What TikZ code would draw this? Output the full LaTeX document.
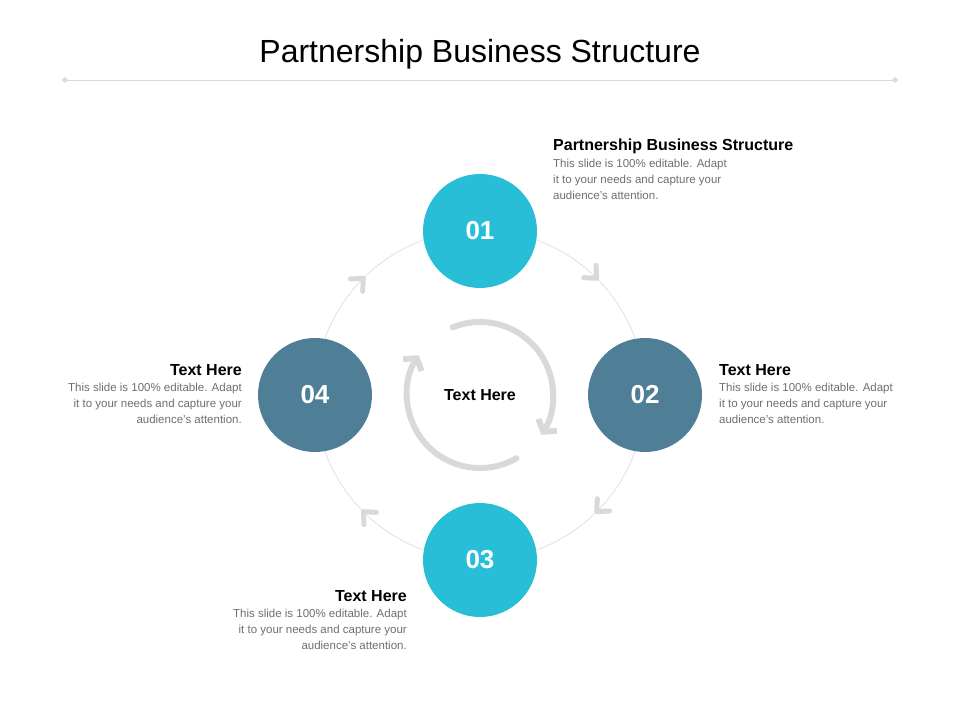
\documentclass[tikz,border=0pt]{standalone}
\usepackage{fontspec}
\setmainfont{Liberation Sans}
\usetikzlibrary{arrows.meta,calc}
\definecolor{cyanstep}{RGB}{41,190,216}
\definecolor{slatestep}{RGB}{79,127,150}
\definecolor{ringgray}{RGB}{217,217,217}
\definecolor{bodygray}{RGB}{110,110,110}

\begin{document}
\begin{tikzpicture}[x=1pt,y=1pt,line cap=round,line join=round,
  stepdot/.style={circle,minimum size=114pt,inner sep=0pt,text=white,font=\fontsize{26}{28}\selectfont\bfseries},
  headtxt/.style={font=\fontsize{16}{18}\selectfont\bfseries,inner sep=0pt},
  bodytxt/.style={font=\fontsize{11.5}{16}\selectfont,text=bodygray,inner sep=0pt},
  chev/.style={ringgray,line width=5pt},
  turn/.style={ringgray,line width=6pt,-{Straight Barb[length=8pt,width=22pt,line width=6pt]}}]
\useasboundingbox (-480,-325) rectangle (480,395);
% title and rule
\node (title) at (0,341) {\fontsize{32}{36}\selectfont Partnership Business Structure};
\coordinate (ruleL) at (-415,315);
\coordinate (ruleR) at (415,315);
\draw[ringgray,line width=0.6pt] (ruleL) -- (ruleR);
\foreach \p in {ruleL,ruleR}
  \fill[ringgray] ($(\p)+(-3,0)$) -- ($(\p)+(0,3)$) -- ($(\p)+(3,0)$) -- ($(\p)+(0,-3)$) -- cycle;
% ring with chevrons
\coordinate (hub) at (0,0);
\draw[ringgray,line width=0.6pt] (hub) circle (165);
\foreach \a in {45,-45,-135,135}{
  \coordinate (tip) at (\a:165);
  \draw[chev] ($(tip)+(\a-90+180+42:13)$) -- (tip) -- ($(tip)+(\a-90+180-42:13)$);
}
% inner turning arrows
\draw[turn] (112:73) arc (112:-33:73);
\draw[turn] (-60:73) arc (-60:-213:73);
\node[headtxt] (mid) at (hub) {Text Here};
% steps
\node[stepdot,fill=cyanstep] (s1) at (0,164) {01};
\node[stepdot,fill=slatestep] (s2) at (165,0) {02};
\node[stepdot,fill=cyanstep] (s3) at (0,-165) {03};
\node[stepdot,fill=slatestep] (s4) at (-165,0) {04};
% texts
\node[headtxt,anchor=west] (h1) at (73,249) {Partnership Business Structure};
\node[bodytxt,anchor=north west,align=left] (b1) at (73,236) {This slide is 100\% editable. Adapt\\it to your needs and capture your\\audience's attention.};
\node[headtxt,anchor=west] (h2) at (239,25) {Text Here};
\node[bodytxt,anchor=north west,align=left] (b2) at (239,12) {This slide is 100\% editable. Adapt\\it to your needs and capture your\\audience's attention.};
\node[headtxt,anchor=east] (h4) at (-238,25) {Text Here};
\node[bodytxt,anchor=north east,align=right] (b4) at (-238,12) {This slide is 100\% editable. Adapt\\it to your needs and capture your\\audience's attention.};
\node[headtxt,anchor=east] (h3) at (-73,-201) {Text Here};
\node[bodytxt,anchor=north east,align=right] (b3) at (-73,-214) {This slide is 100\% editable. Adapt\\it to your needs and capture your\\audience's attention.};
\end{tikzpicture}
\end{document}
